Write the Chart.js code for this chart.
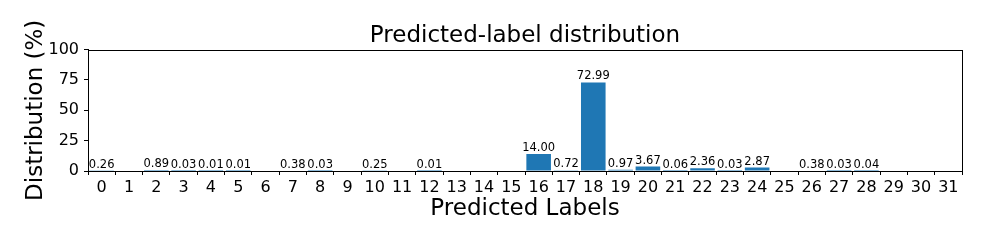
<!DOCTYPE html>
<html>
<head>
<meta charset="utf-8">
<title>Predicted-label distribution</title>
<script src="https://cdn.jsdelivr.net/npm/chart.js@4.4.1/dist/chart.umd.min.js"></script>
<style>
  html, body { margin: 0; padding: 0; background: #fff; }
  canvas { display: block; }
</style>
</head>
<body>
<canvas id="distChart" width="987" height="247"></canvas>
<script>
const labels = ['0', '1', '2', '3', '4', '5', '6', '7', '8', '9', '10', '11', '12', '13', '14', '15',
  '16', '17', '18', '19', '20', '21', '22', '23', '24', '25', '26', '27', '28', '29', '30', '31'];
const distribution = [0.26, 0, 0.89, 0.03, 0.01, 0.01, 0, 0.38, 0.03, 0, 0.25, 0, 0.01, 0, 0, 0,
  14.00, 0.72, 72.99, 0.97, 3.67, 0.06, 2.36, 0.03, 2.87, 0, 0.38, 0.03, 0.04, 0, 0, 0];
const yTicks = [0, 25, 50, 75, 100];

const FONT = 'DejaVu Sans';

// value labels on top of each non-zero bar, like ax.bar_label
const barLabels = {
  id: 'barLabels',
  afterDatasetsDraw(chart) {
    const ctx = chart.ctx;
    const meta = chart.getDatasetMeta(0);
    ctx.save();
    ctx.font = '11.5px "' + FONT + '"';
    ctx.fillStyle = '#000';
    ctx.textAlign = 'center';
    ctx.textBaseline = 'alphabetic';
    meta.data.forEach((bar, i) => {
      const v = distribution[i];
      if (v > 0) ctx.fillText(v.toFixed(2), bar.x, bar.y - 3);
    });
    ctx.restore();
  }
};

// full box around the axes
const frame = {
  id: 'frame',
  afterDraw(chart) {
    const { left, top, right, bottom } = chart.chartArea;
    const ctx = chart.ctx;
    ctx.save();
    ctx.strokeStyle = '#000';
    ctx.lineWidth = 1;
    ctx.strokeRect(Math.round(left) + 0.5, Math.round(top) + 0.5,
      Math.round(right - left), Math.round(bottom - top));
    ctx.restore();
  }
};

new Chart(document.getElementById('distChart').getContext('2d'), {
  type: 'bar',
  data: {
    labels: labels,
    datasets: [{
      label: 'Distribution (%)',
      data: distribution,
      backgroundColor: '#1f77b4',
      borderWidth: 0,
      barPercentage: 0.9,
      categoryPercentage: 1.0
    }]
  },
  options: {
    responsive: false,
    animation: false,
    layout: { padding: { left: 0, right: 25, top: 0, bottom: 0 } },
    plugins: {
      legend: { display: false },
      tooltip: { enabled: false },
      title: {
        display: true,
        fullSize: false,
        text: 'Predicted-label distribution',
        color: '#000',
        font: { family: FONT, size: 23, weight: 'normal' },
        padding: { top: 22, bottom: 0 }
      }
    },
    scales: {
      x: {
        offset: true,
        grid: { display: true, drawOnChartArea: false, tickLength: 4, color: '#000' },
        border: { display: true, color: '#000' },
        ticks: { color: '#000', font: { family: FONT, size: 16 }, padding: 3, maxRotation: 0, autoSkip: false },
        title: {
          display: true,
          text: 'Predicted Labels',
          color: '#000',
          font: { family: FONT, size: 23 },
          padding: { top: 0, bottom: 24 }
        },
        afterFit(scale) { scale.height = 76; }
      },
      y: {
        min: 0,
        max: 100,
        afterBuildTicks(scale) { scale.ticks = yTicks.map(v => ({ value: v })); },
        grid: { display: true, drawOnChartArea: false, tickLength: 4, color: '#000' },
        border: { display: true, color: '#000' },
        ticks: { color: '#000', font: { family: FONT, size: 16 }, padding: 5 },
        title: {
          display: true,
          text: 'Distribution (%)',
          color: '#000',
          font: { family: FONT, size: 23 },
          padding: { top: 22, bottom: 0 }
        },
        afterFit(scale) { scale.width = 88; }
      }
    }
  },
  plugins: [barLabels, frame]
});
</script>
</body>
</html>
